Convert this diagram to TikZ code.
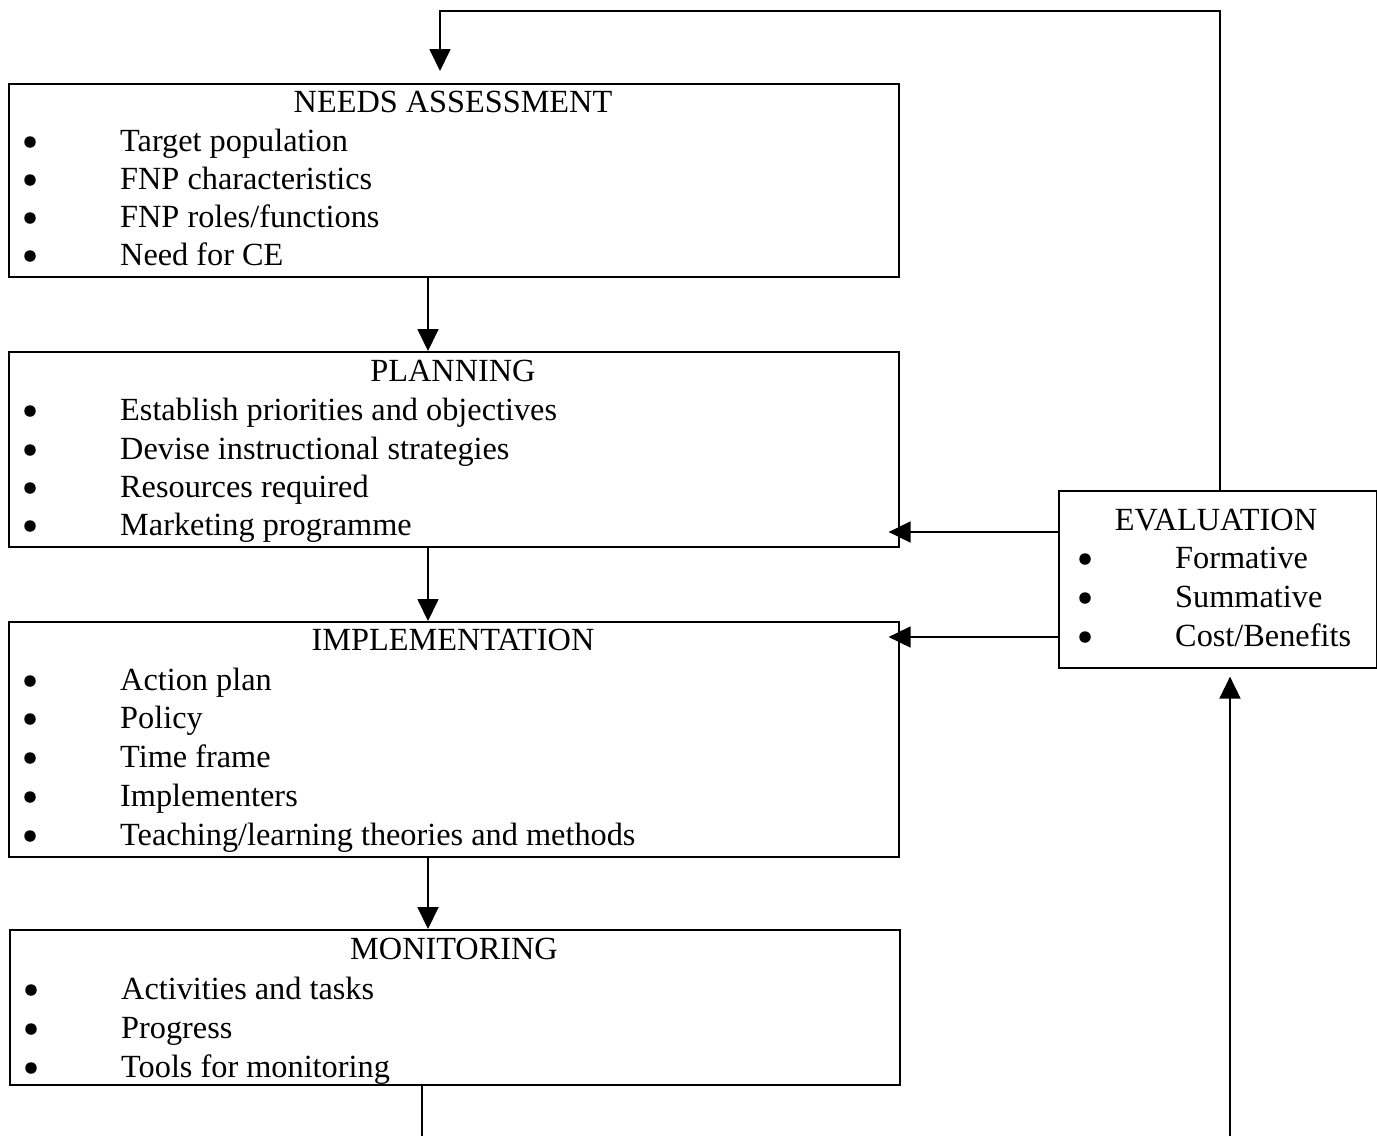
\documentclass[tikz,border=0pt]{standalone}
\usepackage{fontspec}
\setmainfont{Liberation Serif}
\usetikzlibrary{arrows.meta}
\begin{document}
\begin{tikzpicture}[x=1pt,y=-1pt,
  box/.style={draw, line width=1.6pt, rectangle, inner sep=0pt, anchor=north west},
  ttl/.style={anchor=base, inner sep=0pt, font=\fontsize{32.3}{38}\selectfont},
  itm/.style={anchor=base west, inner sep=0pt, font=\fontsize{32.3}{38}\selectfont},
  dot/.style={circle, fill, inner sep=0pt, minimum size=11.5pt},
  conn/.style={line width=1.8pt},
  arr/.style={conn, -{Triangle[length=22pt,width=21pt]}}
]
\useasboundingbox (0,0) rectangle (1377,1136);

% boxes
\node[box, minimum width=890pt, minimum height=193pt] (needs) at (8,83) {};
\node[box, minimum width=890pt, minimum height=195pt] (plan) at (8,351) {};
\node[box, minimum width=890pt, minimum height=235pt] (impl) at (8,621) {};
\node[box, minimum width=890pt, minimum height=155pt] (mon) at (9,929) {};
\node[box, minimum width=318pt, minimum height=177pt] (eval) at (1058,490) {};

% NEEDS ASSESSMENT
\node[ttl] (needsT) at (453,112) {NEEDS ASSESSMENT};
\node[dot] (nd1) at (30,142) {}; \node[itm] (ni1) at (120,151) {Target population};
\node[dot] (nd2) at (30,180) {}; \node[itm] (ni2) at (120,189) {FNP characteristics};
\node[dot] (nd3) at (30,218) {}; \node[itm] (ni3) at (120,227) {FNP roles/functions};
\node[dot] (nd4) at (30,256) {}; \node[itm] (ni4) at (120,265) {Need for CE};

% PLANNING
\node[ttl] (planT) at (453,381) {PLANNING};
\node[dot] (pd1) at (30,411) {}; \node[itm] (pi1) at (120,420) {Establish priorities and objectives};
\node[dot] (pd2) at (30,450) {}; \node[itm] (pi2) at (120,459) {Devise instructional strategies};
\node[dot] (pd3) at (30,488) {}; \node[itm] (pi3) at (120,497) {Resources required};
\node[dot] (pd4) at (30,526) {}; \node[itm] (pi4) at (120,535) {Marketing programme};

% IMPLEMENTATION
\node[ttl] (implT) at (453,650) {IMPLEMENTATION};
\node[dot] (id1) at (30,681) {}; \node[itm] (ii1) at (120,690) {Action plan};
\node[dot] (id2) at (30,719) {}; \node[itm] (ii2) at (120,728) {Policy};
\node[dot] (id3) at (30,758) {}; \node[itm] (ii3) at (120,767) {Time frame};
\node[dot] (id4) at (30,797) {}; \node[itm] (ii4) at (120,806) {Implementers};
\node[dot] (id5) at (30,836) {}; \node[itm] (ii5) at (120,845) {Teaching/learning theories and methods};

% MONITORING
\node[ttl] (monT) at (454,959) {MONITORING};
\node[dot] (md1) at (31,990) {}; \node[itm] (mi1) at (121,999) {Activities and tasks};
\node[dot] (md2) at (31,1029) {}; \node[itm] (mi2) at (121,1038) {Progress};
\node[dot] (md3) at (31,1068) {}; \node[itm] (mi3) at (121,1077) {Tools for monitoring};

% EVALUATION
\node[ttl] (evalT) at (1216,530) {EVALUATION};
\node[dot] (ed1) at (1085,559) {}; \node[itm] (ei1) at (1175,568) {Formative};
\node[dot] (ed2) at (1085,598) {}; \node[itm] (ei2) at (1175,607) {Summative};
\node[dot] (ed3) at (1085,637) {}; \node[itm] (ei3) at (1175,646) {Cost/Benefits};

% connectors
\coordinate (loopR) at (1220,11);
\coordinate (loopL) at (440,11);
\draw[arr, shorten >=12pt] (eval.north -| loopR) -- (loopR) -- (loopL) -- (needs.north -| loopL);

\coordinate (vx) at (428,0);
\draw[arr] (needs.south -| vx) -- (plan.north -| vx);
\draw[arr] (plan.south -| vx) -- (impl.north -| vx);
\draw[arr] (impl.south -| vx) -- (mon.north -| vx);

\coordinate (h1) at (0,532);
\coordinate (h2) at (0,637);
\draw[arr, shorten >=-11pt] (eval.west |- h1) -- (plan.east |- h1);
\draw[arr, shorten >=-11pt] (eval.west |- h2) -- (impl.east |- h2);

\coordinate (monOut) at (422,1136);
\draw[conn] (mon.south -| monOut) -- (monOut);
\coordinate (evalIn) at (1230,1136);
\draw[arr, shorten >=8pt] (evalIn) -- (eval.south -| evalIn);
\end{tikzpicture}
\end{document}
